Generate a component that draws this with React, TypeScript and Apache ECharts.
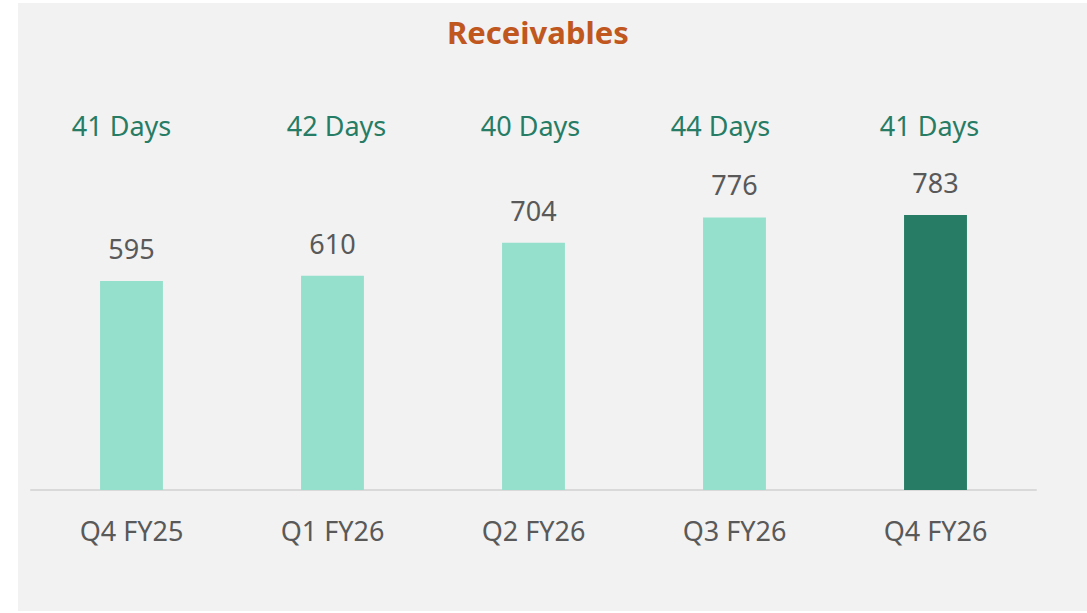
import React, { useEffect, useRef } from "react";
import * as echarts from "echarts";

const categories = ["Q4 FY25", "Q1 FY26", "Q2 FY26", "Q3 FY26", "Q4 FY26"];
const receivables = [595, 610, 704, 776, 783];
const daysValues = [41, 42, 40, 44, 41];
const titleText = "Receivables";

// horizontal nudge of each "Days" text box (px, negative = left)
const daysShift = [-10, 4, -3, -14, -6];

const FONT = "'Noto Sans', 'Open Sans', sans-serif";
const LIGHT = "#95e0cc";
const DARK = "#267c64";

export default function App() {
  const ref = useRef<HTMLDivElement>(null);
  useEffect(() => {
    document.body.style.margin = "0";
    const chart = echarts.init(ref.current!, null, { renderer: "svg" });
    const lastIdx = receivables.length - 1;
    chart.setOption({
      animation: false,
      backgroundColor: "#ffffff",
      graphic: [
        {
          type: "rect",
          z: -10,
          shape: { x: 18, y: 3, width: 1069, height: 608 },
          style: { fill: "#f2f2f2" },
          silent: true,
        },
      ],
      title: {
        text: titleText,
        left: 442,
        top: 11,
        textStyle: { fontFamily: FONT, fontSize: 31, fontWeight: "bold", color: "#c0571f" },
      },
      grid: { left: 31, right: 51, bottom: 123, top: 138.7 },
      xAxis: [
        {
          type: "category",
          data: categories,
          position: "bottom",
          axisLine: { lineStyle: { color: "#d9d9d9", width: 2 } },
          axisTick: { show: false },
          axisLabel: {
            fontFamily: FONT,
            fontSize: 27,
            color: "#595959",
            margin: 27,
          },
        },
        {
          type: "category",
          data: daysValues.map((d, i) => ({
            value: d + " Days",
            textStyle: {
              padding: daysShift[i] < 0 ? [0, -2 * daysShift[i], 0, 0] : [0, 0, 0, 2 * daysShift[i]],
            },
          })),
          position: "top",
          axisLine: { show: false },
          axisTick: { show: false },
          axisLabel: {
            fontFamily: FONT,
            fontSize: 27,
            color: DARK,
            verticalAlign: "middle",
            margin: 0,
          },
        },
      ],
      yAxis: {
        type: "value",
        min: 0,
        max: 1000,
        show: false,
        splitLine: { show: false },
      },
      series: [
        {
          type: "bar",
          xAxisIndex: 0,
          barWidth: "31.3%",
          data: receivables.map((v, i) => ({
            value: v,
            itemStyle: { color: i === lastIdx ? DARK : LIGHT },
          })),
          label: {
            show: true,
            position: "top",
            distance: 19,
            fontFamily: FONT,
            fontSize: 27,
            color: "#595959",
          },
        },
      ],
    });
    return () => chart.dispose();
  }, []);
  return <div ref={ref} style={{ width: 1087, height: 613 }} />;
}
